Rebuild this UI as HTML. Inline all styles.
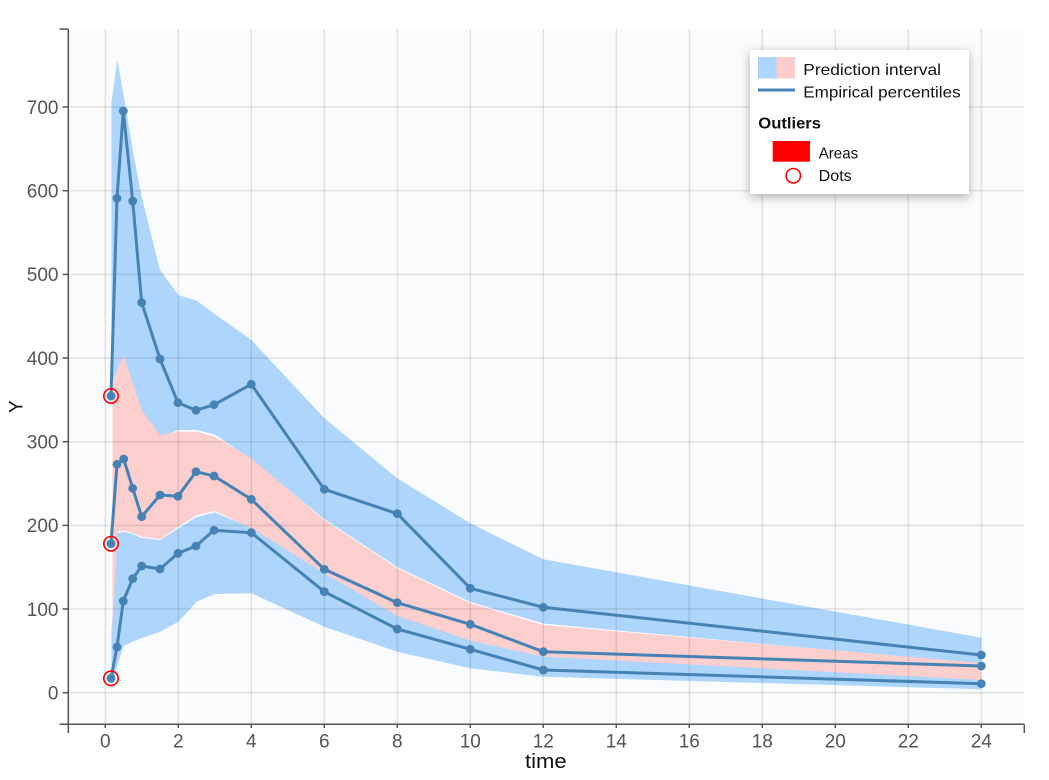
<!DOCTYPE html>
<html><head><meta charset="utf-8"><style>
html,body{margin:0;padding:0;background:#fff;}
svg{display:block;}
text{font-family:"Liberation Sans",Arial,sans-serif;}
</style></head><body>
<svg width="1049" height="780" viewBox="0 0 1049 780" xmlns="http://www.w3.org/2000/svg">
<defs>
<filter id="sh" x="-20%" y="-20%" width="140%" height="150%">
<feDropShadow dx="0" dy="3" stdDeviation="5" flood-color="#000" flood-opacity="0.3"/>
</filter>
</defs>
<rect x="0" y="0" width="1049" height="780" fill="#fff"/>
<rect x="68.3" y="29" width="955.7" height="695" fill="#fafbfd"/>

<!-- upper blue band -->
<polygon fill="#aed5fc" points="111.4,103.3 117.3,60 123.3,93.3 132.7,150 141.7,196.7 160,270 178.3,295 196.6,300.7 214.8,314 251.3,340 324.3,418.3 397.3,478.3 470.3,523.3 543.3,559.3 981.3,637.7 981.3,664 543.3,623.5 470.3,602 397.3,567 324.3,519 251.3,459.5 214.8,434.5 196.6,430 178.3,430 160.1,437 141.8,412 132.7,385 123.6,357 117.5,370 111.4,385"/>
<!-- lower blue band -->
<polygon fill="#aed5fc" points="111.4,633 117.5,533 123.6,532 132.7,534 141.8,538 160.1,540 178.3,528.5 196.6,517 214.8,512.5 251.3,527.5 324.3,572.5 397.3,615.5 470.3,640 543.3,656 981.3,679.5 981.3,689.3 543.3,676.7 470.3,668.3 397.3,651.7 324.3,626.7 251.3,593.3 214.8,594 196.6,601.7 178.3,621.7 160.1,631.7 141.8,638 132.7,641.7 123.6,646 117.5,665 111.4,690"/>
<!-- pink band -->
<polygon fill="#fccbcb" fill-opacity="0.92" points="112.5,385 117.5,368 123.6,355 132.7,383 141.8,410 160.1,435 178.3,431.7 196.6,431.7 214.8,436.7 251.3,458.3 324.3,520 397.3,568.3 470.3,603.3 543.3,625 981.3,663 981.3,680 543.3,656.7 470.3,640.7 397.3,616 324.3,573.3 251.3,528 214.8,510.7 196.6,515 178.3,526.7 160.1,539.3 141.8,536.7 132.7,533 123.6,530.7 117.5,531.7 112.5,633"/>

<!-- grid -->
<g stroke="rgba(0,0,0,0.1)" stroke-width="1.5">
<line x1="105.3" y1="29" x2="105.3" y2="724"/>
<line x1="178.3" y1="29" x2="178.3" y2="724"/>
<line x1="251.3" y1="29" x2="251.3" y2="724"/>
<line x1="324.3" y1="29" x2="324.3" y2="724"/>
<line x1="397.3" y1="29" x2="397.3" y2="724"/>
<line x1="470.3" y1="29" x2="470.3" y2="724"/>
<line x1="543.3" y1="29" x2="543.3" y2="724"/>
<line x1="616.3" y1="29" x2="616.3" y2="724"/>
<line x1="689.3" y1="29" x2="689.3" y2="724"/>
<line x1="762.3" y1="29" x2="762.3" y2="724"/>
<line x1="835.3" y1="29" x2="835.3" y2="724"/>
<line x1="908.3" y1="29" x2="908.3" y2="724"/>
<line x1="981.3" y1="29" x2="981.3" y2="724"/>
<line x1="68.3" y1="692.7" x2="1024" y2="692.7"/>
<line x1="68.3" y1="609" x2="1024" y2="609"/>
<line x1="68.3" y1="525.4" x2="1024" y2="525.4"/>
<line x1="68.3" y1="441.7" x2="1024" y2="441.7"/>
<line x1="68.3" y1="358" x2="1024" y2="358"/>
<line x1="68.3" y1="274.4" x2="1024" y2="274.4"/>
<line x1="68.3" y1="190.7" x2="1024" y2="190.7"/>
<line x1="68.3" y1="107" x2="1024" y2="107"/>
</g>

<!-- percentile lines -->
<g fill="none" stroke="#4682b4" stroke-width="3" stroke-linejoin="round">
<polyline points="111,396 117,198.3 123.3,111 132.7,201 141.7,302.7 160,359 178,402.7 196,410.3 214,404.7 251.3,384.3 324.3,489.3 397.3,513.7 470.3,588.3 543.3,607.3 981.3,655"/>
<polyline points="111,543.7 117,464.3 123.7,459 132.7,488.3 141.7,516.7 160,495 178,496.3 196,471.7 214,476 251.3,499.3 324.3,569.3 397.3,602.7 470.3,624.3 543.3,651.7 981.3,666"/>
<polyline points="111,678.3 117,647 123.3,601 132.7,578.7 141.7,566 160,569 178,553.3 196,546 214,530.3 251.3,532.7 324.3,591.7 397.3,629 470.3,649.3 543.3,670 981.3,683.7"/>
</g>
<g fill="#4682b4">
<circle cx="111" cy="396" r="4.4"/><circle cx="117" cy="198.3" r="4.4"/><circle cx="123.3" cy="111" r="4.4"/><circle cx="132.7" cy="201" r="4.4"/><circle cx="141.7" cy="302.7" r="4.4"/><circle cx="160" cy="359" r="4.4"/><circle cx="178" cy="402.7" r="4.4"/><circle cx="196" cy="410.3" r="4.4"/><circle cx="214" cy="404.7" r="4.4"/><circle cx="251.3" cy="384.3" r="4.4"/><circle cx="324.3" cy="489.3" r="4.4"/><circle cx="397.3" cy="513.7" r="4.4"/><circle cx="470.3" cy="588.3" r="4.4"/><circle cx="543.3" cy="607.3" r="4.4"/><circle cx="981.3" cy="655" r="4.4"/>
<circle cx="111" cy="543.7" r="4.4"/><circle cx="117" cy="464.3" r="4.4"/><circle cx="123.7" cy="459" r="4.4"/><circle cx="132.7" cy="488.3" r="4.4"/><circle cx="141.7" cy="516.7" r="4.4"/><circle cx="160" cy="495" r="4.4"/><circle cx="178" cy="496.3" r="4.4"/><circle cx="196" cy="471.7" r="4.4"/><circle cx="214" cy="476" r="4.4"/><circle cx="251.3" cy="499.3" r="4.4"/><circle cx="324.3" cy="569.3" r="4.4"/><circle cx="397.3" cy="602.7" r="4.4"/><circle cx="470.3" cy="624.3" r="4.4"/><circle cx="543.3" cy="651.7" r="4.4"/><circle cx="981.3" cy="666" r="4.4"/>
<circle cx="111" cy="678.3" r="4.4"/><circle cx="117" cy="647" r="4.4"/><circle cx="123.3" cy="601" r="4.4"/><circle cx="132.7" cy="578.7" r="4.4"/><circle cx="141.7" cy="566" r="4.4"/><circle cx="160" cy="569" r="4.4"/><circle cx="178" cy="553.3" r="4.4"/><circle cx="196" cy="546" r="4.4"/><circle cx="214" cy="530.3" r="4.4"/><circle cx="251.3" cy="532.7" r="4.4"/><circle cx="324.3" cy="591.7" r="4.4"/><circle cx="397.3" cy="629" r="4.4"/><circle cx="470.3" cy="649.3" r="4.4"/><circle cx="543.3" cy="670" r="4.4"/><circle cx="981.3" cy="683.7" r="4.4"/>
</g>
<!-- outlier dots -->
<g fill="none" stroke="#ff0000" stroke-width="1.6">
<circle cx="111" cy="396" r="7.2"/>
<circle cx="111" cy="543.7" r="7.2"/>
<circle cx="111" cy="678.3" r="7.2"/>
</g>

<!-- axes -->
<g stroke="#555" stroke-width="1.5" fill="none">
<line x1="68.3" y1="29" x2="68.3" y2="733"/>
<line x1="59.5" y1="724.3" x2="1024.3" y2="724.3"/>
<line x1="59.5" y1="29" x2="68.3" y2="29"/>
<line x1="1024.3" y1="724.3" x2="1024.3" y2="733"/>
<line x1="62.5" y1="692.7" x2="68.3" y2="692.7"/>
<line x1="62.5" y1="609" x2="68.3" y2="609"/>
<line x1="62.5" y1="525.4" x2="68.3" y2="525.4"/>
<line x1="62.5" y1="441.7" x2="68.3" y2="441.7"/>
<line x1="62.5" y1="358" x2="68.3" y2="358"/>
<line x1="62.5" y1="274.4" x2="68.3" y2="274.4"/>
<line x1="62.5" y1="190.7" x2="68.3" y2="190.7"/>
<line x1="62.5" y1="107" x2="68.3" y2="107"/>
<line x1="105.3" y1="724.3" x2="105.3" y2="728"/>
<line x1="178.3" y1="724.3" x2="178.3" y2="728"/>
<line x1="251.3" y1="724.3" x2="251.3" y2="728"/>
<line x1="324.3" y1="724.3" x2="324.3" y2="728"/>
<line x1="397.3" y1="724.3" x2="397.3" y2="728"/>
<line x1="470.3" y1="724.3" x2="470.3" y2="728"/>
<line x1="543.3" y1="724.3" x2="543.3" y2="728"/>
<line x1="616.3" y1="724.3" x2="616.3" y2="728"/>
<line x1="689.3" y1="724.3" x2="689.3" y2="728"/>
<line x1="762.3" y1="724.3" x2="762.3" y2="728"/>
<line x1="835.3" y1="724.3" x2="835.3" y2="728"/>
<line x1="908.3" y1="724.3" x2="908.3" y2="728"/>
<line x1="981.3" y1="724.3" x2="981.3" y2="728"/>
</g>

<!-- y tick labels -->
<g font-size="19" fill="#555" text-anchor="end">
<text x="58.5" y="699.5">0</text>
<text x="58.5" y="615.8">100</text>
<text x="58.5" y="532.2">200</text>
<text x="58.5" y="448.5">300</text>
<text x="58.5" y="364.8">400</text>
<text x="58.5" y="281.2">500</text>
<text x="58.5" y="197.5">600</text>
<text x="58.5" y="113.8">700</text>
</g>
<!-- x tick labels -->
<g font-size="19" fill="#555" text-anchor="middle">
<text x="105.3" y="747.5">0</text>
<text x="178.3" y="747.5">2</text>
<text x="251.3" y="747.5">4</text>
<text x="324.3" y="747.5">6</text>
<text x="397.3" y="747.5">8</text>
<text x="470.3" y="747.5">10</text>
<text x="543.3" y="747.5">12</text>
<text x="616.3" y="747.5">14</text>
<text x="689.3" y="747.5">16</text>
<text x="762.3" y="747.5">18</text>
<text x="835.3" y="747.5">20</text>
<text x="908.3" y="747.5">22</text>
<text x="981.3" y="747.5">24</text>
</g>
<text x="525" y="768" font-size="20" fill="#111" textLength="41.7" lengthAdjust="spacingAndGlyphs">time</text>
<text transform="translate(22.5,406.7) rotate(-90)" font-size="19" fill="#111" text-anchor="middle">Y</text>

<!-- legend -->
<rect x="750" y="50" width="219" height="144" fill="#fff" filter="url(#sh)"/>
<rect x="758" y="57" width="18.5" height="21.5" fill="#aed5fc"/>
<rect x="776.5" y="57" width="18.5" height="21.5" fill="#fccbcb"/>
<line x1="758" y1="90" x2="795" y2="90" stroke="#4682b4" stroke-width="3"/>
<g font-size="16" fill="#111">
<text x="803.3" y="75" textLength="137.7" lengthAdjust="spacingAndGlyphs">Prediction interval</text>
<text x="803.3" y="97.3" textLength="157.3" lengthAdjust="spacingAndGlyphs">Empirical percentiles</text>
<text x="758.3" y="128.5" font-weight="bold" textLength="62.7" lengthAdjust="spacingAndGlyphs">Outliers</text>
<text x="818.7" y="158.5" textLength="39.5" lengthAdjust="spacingAndGlyphs">Areas</text>
<text x="818.7" y="181" textLength="33" lengthAdjust="spacingAndGlyphs">Dots</text>
</g>
<rect x="772.7" y="141" width="37.3" height="20.7" fill="#ff0000"/>
<circle cx="793.3" cy="175.7" r="7.2" fill="none" stroke="#ff0000" stroke-width="1.6"/>
</svg>
</body></html>
